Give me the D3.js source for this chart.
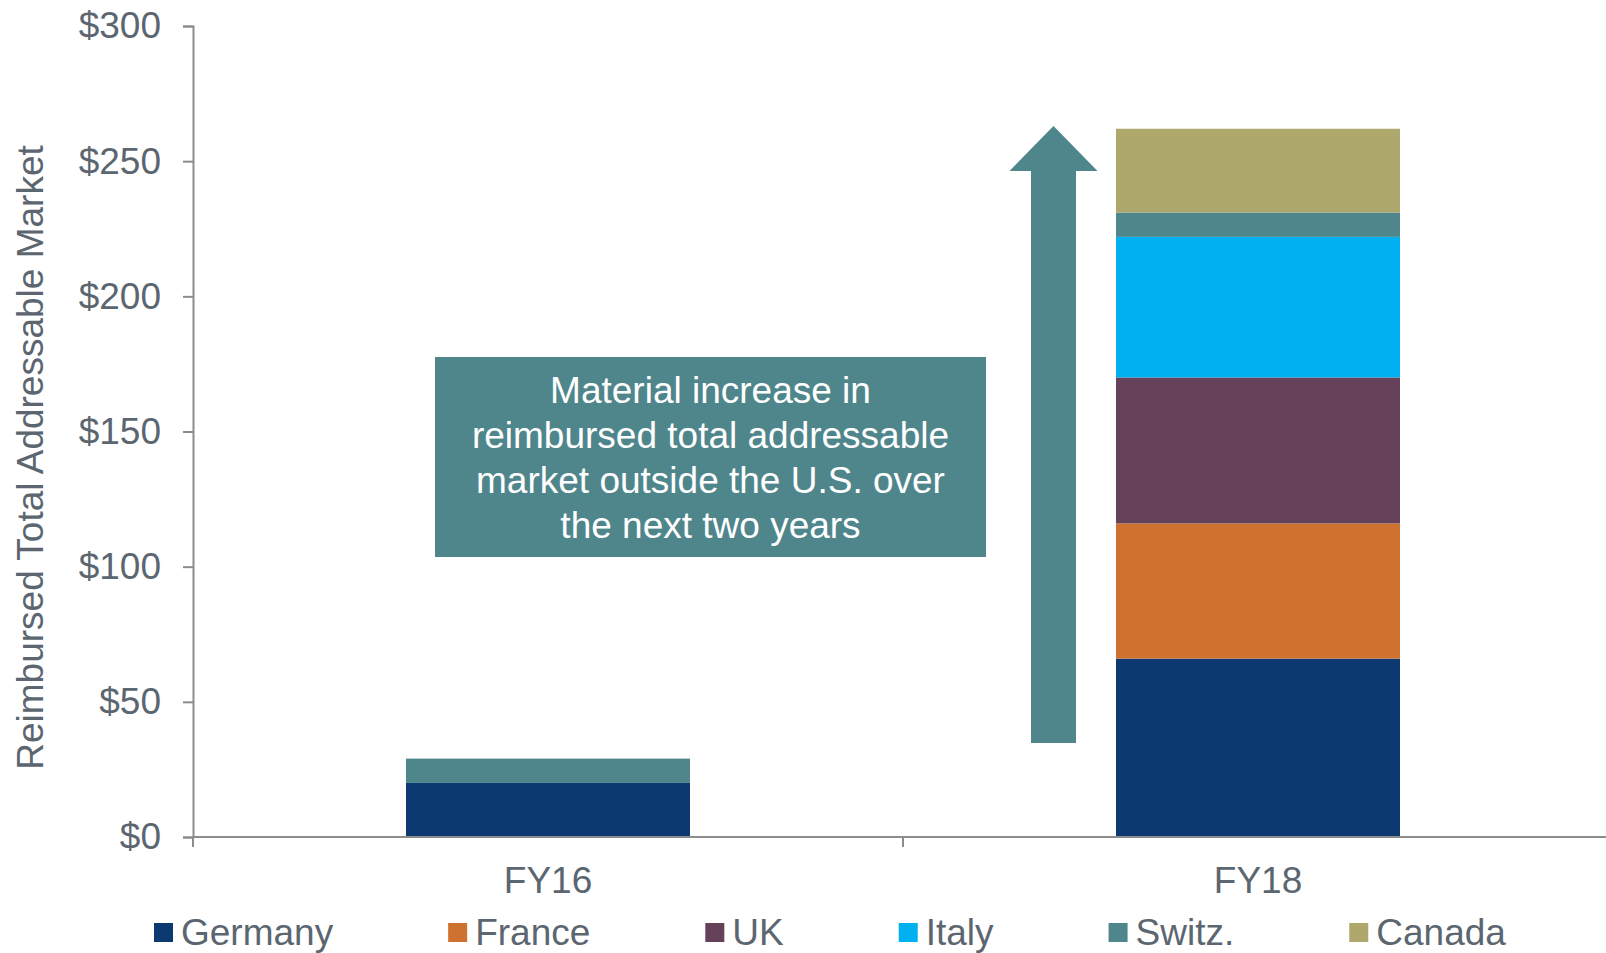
<!DOCTYPE html>
<html>
<head>
<meta charset="utf-8">
<script src="https://cdn.jsdelivr.net/npm/d3@7"></script>
<style>
  html, body { margin: 0; padding: 0; background: #fff; }
  svg { display: block; font-family: "Liberation Sans", Arial, sans-serif; }
</style>
</head>
<body>
<svg id="chart" width="1606" height="953"></svg>
<script>
// Fiscal years on the x axis
const years = ["FY16", "FY18"];
// Countries, stacked bottom to top
const countries = ["Germany", "France", "UK", "Italy", "Switz.", "Canada"];
const countryColors = ["#0C3970", "#D0722F", "#654259", "#00B0F0", "#4F868C", "#AFA86D"];
// Reimbursed total addressable market by country ($M)
const germany = [20, 66];
const france  = [0, 50];
const uk      = [0, 54];
const italy   = [0, 52];
const switz   = [9, 9];
const canada  = [0, 31];
// Y axis ticks
const yTicks = [0, 50, 100, 150, 200, 250, 300];
const yTitle = "Reimbursed Total Addressable Market";
const calloutLines = [
  "Material increase in",
  "reimbursed total addressable",
  "market outside the U.S. over",
  "the next two years"
];

const seriesValues = [germany, france, uk, italy, switz, canada];
const rows = years.map((yr, i) => {
  const r = { year: yr };
  countries.forEach((c, k) => { r[c] = seriesValues[k][i]; });
  return r;
});

const textColor = "#5B6670";
const axisColor = "#8C8C8C";
const teal = "#4F868C";

const svg = d3.select("#chart");

const x = d3.scaleBand().domain(years).range([193, 1613]).paddingInner(0.6).paddingOuter(0.3);
const y = d3.scaleLinear().domain([0, 300]).range([837, 26]);
const color = d3.scaleOrdinal().domain(countries).range(countryColors);

const stack = d3.stack().keys(countries);
const layers = stack(rows);

// Stacked bars
svg.append("g").selectAll("g")
  .data(layers)
  .join("g")
  .attr("fill", d => color(d.key))
  .selectAll("rect")
  .data(d => d.filter(p => p[1] - p[0] > 0))
  .join("rect")
  .attr("x", d => x(d.data.year))
  .attr("width", x.bandwidth())
  .attr("y", d => y(d[1]))
  .attr("height", d => y(d[0]) - y(d[1]));

// Y axis
const yAxis = svg.append("g")
  .attr("transform", `translate(${x.range()[0]},0)`)
  .call(d3.axisLeft(y).tickValues(yTicks).tickSize(10).tickPadding(22).tickFormat(d => "$" + d));
yAxis.select(".domain").attr("stroke", axisColor).attr("stroke-width", 2);
yAxis.selectAll(".tick line").attr("stroke", axisColor).attr("stroke-width", 2);
yAxis.selectAll(".tick text")
  .attr("fill", textColor)
  .style("font-size", "37px")
  .style("font-family", "Liberation Sans, Arial, sans-serif");

// X axis: baseline, category boundary ticks, centred labels
const xAxis = svg.append("g").attr("transform", `translate(0,${y(0)})`);
xAxis.append("line")
  .attr("x1", x.range()[0]).attr("x2", x.range()[1])
  .attr("stroke", axisColor).attr("stroke-width", 2);
const step = x.step();
const bounds = [x.range()[0], x.range()[0] + step, x.range()[0] + 2 * step];
xAxis.selectAll("line.bt")
  .data(bounds)
  .join("line")
  .attr("class", "bt")
  .attr("x1", d => d).attr("x2", d => d)
  .attr("y1", 0).attr("y2", 10)
  .attr("stroke", axisColor).attr("stroke-width", 2);
xAxis.selectAll("text")
  .data(years)
  .join("text")
  .attr("x", d => x(d) + x.bandwidth() / 2)
  .attr("y", 56)
  .attr("text-anchor", "middle")
  .attr("fill", textColor)
  .style("font-size", "37px")
  .text(d => d);

// Y axis title
svg.append("text")
  .attr("transform", `translate(43,${(y(0) + y(300)) / 2 + 26}) rotate(-90)`)
  .attr("text-anchor", "middle")
  .attr("fill", textColor)
  .style("font-size", "37px")
  .text(yTitle);

// Growth arrow between the two years
const arrowCx = 1053.5, tipY = 126, headBaseY = 171, shaftBottom = 743;
const headHalf = 44, shaftHalf = 22.5;
svg.append("path")
  .attr("fill", teal)
  .attr("d", `M${arrowCx},${tipY} L${arrowCx + headHalf},${headBaseY} L${arrowCx + shaftHalf},${headBaseY}
    L${arrowCx + shaftHalf},${shaftBottom} L${arrowCx - shaftHalf},${shaftBottom}
    L${arrowCx - shaftHalf},${headBaseY} L${arrowCx - headHalf},${headBaseY} Z`);

// Callout box
const box = { x: 435, y: 357, w: 551, h: 200 };
svg.append("rect")
  .attr("x", box.x).attr("y", box.y)
  .attr("width", box.w).attr("height", box.h)
  .attr("fill", teal);
svg.append("g").selectAll("text")
  .data(calloutLines)
  .join("text")
  .attr("x", box.x + box.w / 2)
  .attr("y", (d, i) => 403 + i * 45)
  .attr("text-anchor", "middle")
  .attr("fill", "#fff")
  .style("font-size", "37px")
  .text(d => d);

// Legend
const legend = svg.append("g");
let lx = 154;
countries.forEach(c => {
  const g = legend.append("g").attr("transform", `translate(${lx},0)`);
  g.append("rect").attr("x", 0).attr("y", 923).attr("width", 19).attr("height", 19).attr("fill", color(c));
  const t = g.append("text")
    .attr("x", 27).attr("y", 945)
    .attr("fill", textColor)
    .style("font-size", "37px")
    .text(c);
  lx += 27 + t.node().getComputedTextLength() + 115;
});
</script>
</body>
</html>
